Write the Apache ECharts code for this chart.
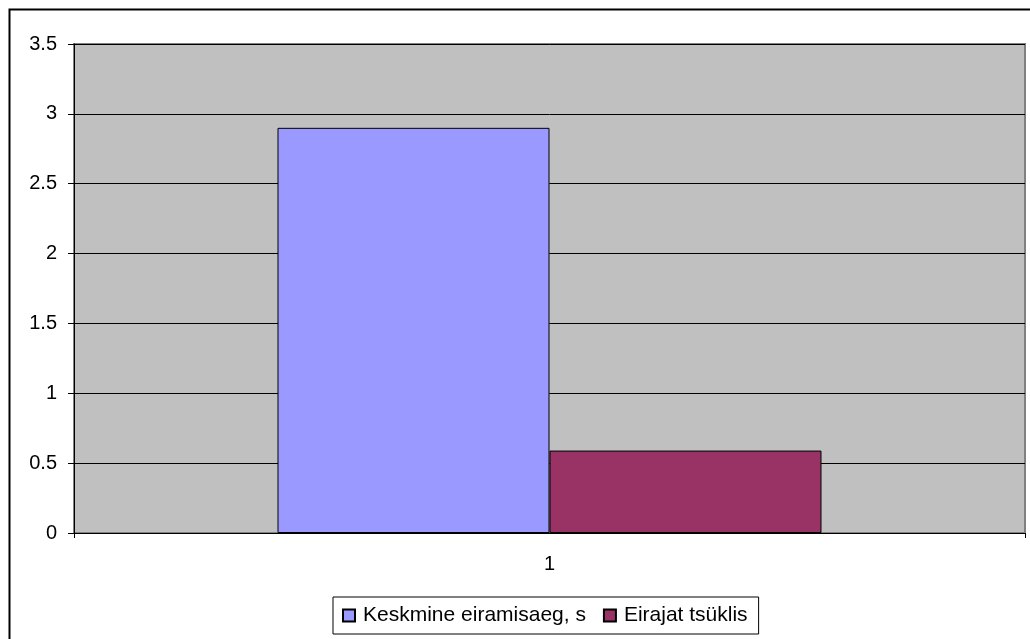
<!DOCTYPE html>
<html>
<head>
<meta charset="utf-8">
<script src="https://cdn.jsdelivr.net/npm/echarts@6/dist/echarts.min.js"></script>
<style>
html,body{margin:0;padding:0;background:#fff;}
#chart{width:1030px;height:639px;}
</style>
</head>
<body>
<div id="chart"></div>
<script>
const categories = ['1'];
const seriesNames = ['Keskmine eiramisaeg, s', 'Eirajat tsüklis'];
const meanTime = [2.9];
const violators = [0.59];
const yMin = 0, yMax = 3.5, yInterval = 0.5;

const chart = echarts.init(document.getElementById('chart'), null, {renderer: 'canvas'});
const font = 'Liberation Sans';
chart.setOption({
  animation: false,
  backgroundColor: '#ffffff',
  textStyle: {fontFamily: font, fontSize: 20},
  graphic: [{
    type: 'rect', left: 7, top: 7, silent: true,
    shape: {x: 0, y: 0, width: 1040, height: 650},
    style: {fill: 'none', stroke: '#000', lineWidth: 2}
  }],
  grid: {
    left: 74, right: 5, top: 44, bottom: 106,
    show: true, backgroundColor: '#C0C0C0', borderColor: '#808080', borderWidth: 2
  },
  legend: {
    left: 333, top: 597,
    icon: 'rect',
    itemWidth: 12, itemHeight: 12, itemGap: 17,
    padding: [8, 11, 8, 9],
    borderColor: '#000', borderWidth: 1,
    textStyle: {fontFamily: font, fontSize: 21, color: '#000', padding: [0, 0, 0, 3]},
    data: seriesNames
  },
  xAxis: {
    type: 'category', data: categories,
    axisLine: {lineStyle: {color: '#000', width: 1}},
    axisTick: {show: true, length: 5, lineStyle: {color: '#000'}},
    axisLabel: {fontFamily: font, fontSize: 20, color: '#000', margin: 21}
  },
  yAxis: {
    type: 'value', min: yMin, max: yMax, interval: yInterval,
    axisLine: {show: true, lineStyle: {color: '#000', width: 1}},
    axisTick: {show: true, length: 6, lineStyle: {color: '#000'}},
    axisLabel: {fontFamily: font, fontSize: 20, color: '#000', margin: 17},
    splitLine: {show: true, lineStyle: {color: '#000', width: 1}}
  },
  series: [{
    name: seriesNames[0], type: 'bar', data: meanTime,
    barGap: '0%', barCategoryGap: '42.8%',
    itemStyle: {color: '#9999FF', borderColor: '#000', borderWidth: 1}
  }, {
    name: seriesNames[1], type: 'bar', data: violators,
    barGap: '0%', barCategoryGap: '42.8%',
    itemStyle: {color: '#993366', borderColor: '#000', borderWidth: 1}
  }]
});
</script>
</body>
</html>
